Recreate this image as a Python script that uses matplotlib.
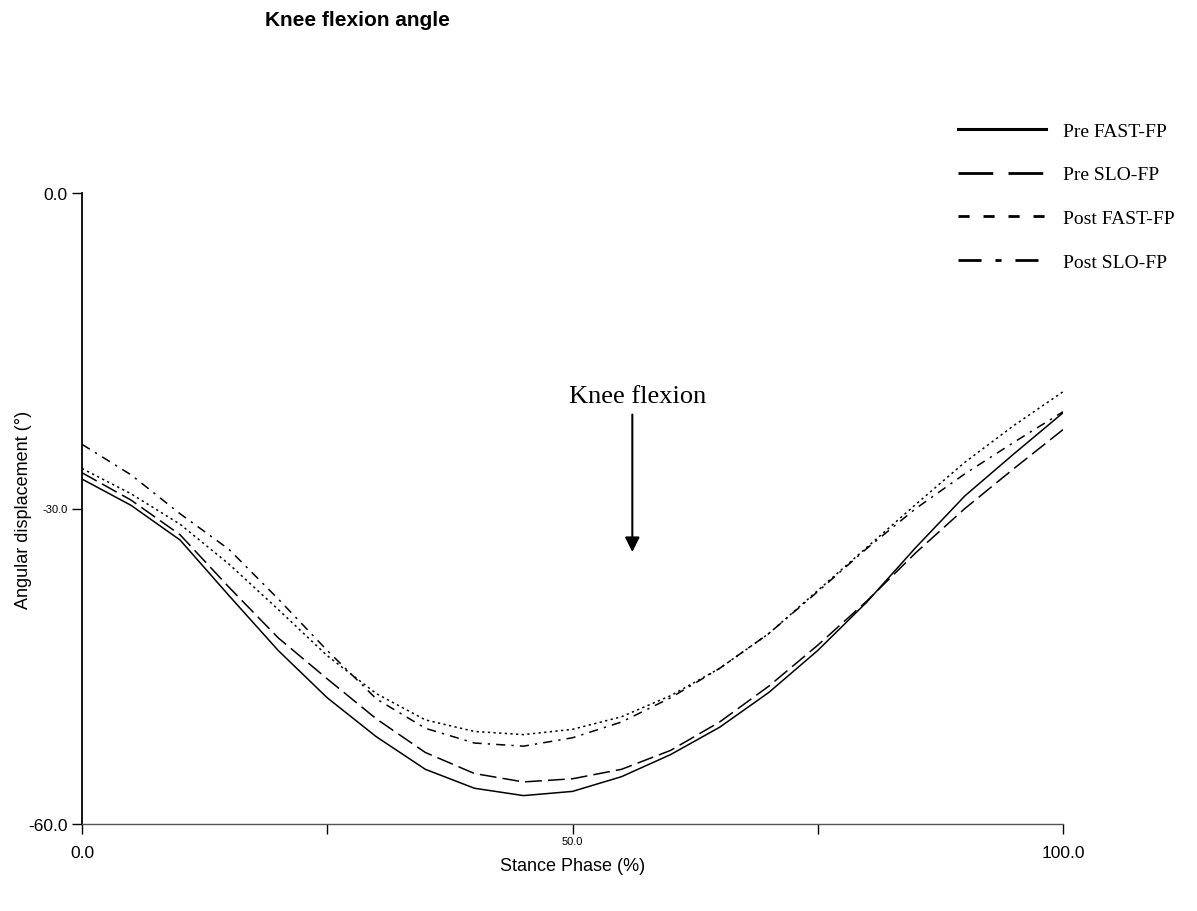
import matplotlib
matplotlib.use("Agg")
import matplotlib.pyplot as plt
from matplotlib.lines import Line2D

stance = [0, 5, 10, 15, 20, 25, 30, 35, 40, 45, 50,
          55, 60, 65, 70, 75, 80, 85, 90, 95, 100]

pre_fast = [-27.2, -29.7, -33.0, -38.3, -43.5, -48.0, -51.7, -54.8, -56.6, -57.3, -56.9,
            -55.5, -53.4, -50.8, -47.5, -43.5, -38.9, -33.7, -28.8, -24.8, -20.9]
pre_slo = [-26.6, -29.2, -32.5, -37.5, -42.3, -46.2, -50.0, -53.2, -55.2, -56.0, -55.7,
           -54.8, -53.0, -50.3, -46.9, -43.0, -38.8, -34.2, -30.0, -26.2, -22.5]
post_fast = [-26.2, -28.6, -31.5, -35.3, -39.6, -44.0, -47.6, -50.1, -51.2, -51.5, -51.0,
             -49.8, -47.8, -45.2, -41.9, -37.8, -33.7, -29.6, -25.6, -22.1, -18.9]
post_slo = [-23.9, -26.8, -30.5, -33.9, -38.6, -43.5, -48.1, -50.9, -52.3, -52.6, -51.8,
            -50.3, -48.0, -45.2, -41.9, -37.9, -33.8, -30.0, -26.7, -23.7, -20.8]

series_labels = ["Pre FAST-FP", "Pre SLO-FP", "Post FAST-FP", "Post SLO-FP"]
x_ticks = [0, 25, 50, 75, 100]
x_tick_labels = ["0.0", "", "50.0", "", "100.0"]
y_ticks = [-60, -30, 0]
y_tick_labels = ["-60.0", "-30.0", "0.0"]

plt.rcParams["font.family"] = ["Liberation Sans", "DejaVu Sans"]

fig = plt.figure(figsize=(11.97, 9.12), dpi=100)
ax = fig.add_axes([82 / 1197, 1 - 825 / 912, 981 / 1197, 631 / 912])

lw = 1.1
ax.plot(stance, pre_fast, color="black", lw=lw)
ax.plot(stance, pre_slo, color="black", lw=lw, dashes=(11, 4))
ax.plot(stance, post_fast, color="black", lw=lw, dashes=(1.5, 2.2))
ax.plot(stance, post_slo, color="black", lw=lw, dashes=(6, 4, 1.5, 4))

ax.set_xlim(0, 100)
ax.set_ylim(-60, 0)
ax.spines["top"].set_visible(False)
ax.spines["right"].set_visible(False)
ax.spines["left"].set_linewidth(1.3)
ax.spines["bottom"].set_linewidth(1.0)
ax.spines["bottom"].set_color("#555555")

ax.set_xticks(x_ticks)
ax.set_xticklabels(x_tick_labels)
ax.set_yticks(y_ticks)
ax.set_yticklabels(y_tick_labels)
ax.tick_params(axis="both", direction="out", length=7, width=1, labelsize=12.5)
ax.tick_params(axis="x", pad=8)
ax.tick_params(axis="y", pad=3.5)

# the middle labels are printed smaller in the original
xt = ax.xaxis.get_major_ticks()
xt[2].set_pad(2)
xt[2].label1.set_fontsize(8)
yt = ax.yaxis.get_major_ticks()
yt[1].label1.set_fontsize(8)

ax.set_xlabel("Stance Phase (%)", fontsize=13)
ax.xaxis.set_label_coords(0.5, -0.053)
ax.set_ylabel("Angular displacement (°)", fontsize=13)
ax.yaxis.set_label_coords(-0.051, 0.5)

ax.annotate("", xy=(56.1, -34.4), xytext=(56.1, -20.8),
            arrowprops=dict(arrowstyle="-|>", color="black", lw=1.5, mutation_scale=22))
ax.text(56.6, -19.3, "Knee flexion", ha="center", va="center",
        family="Liberation Serif", fontsize=19)

fig.text(357 / 1197, 0.978, "Knee flexion angle", ha="center", va="center",
         fontsize=15, fontweight="bold")

# legend keys are drawn heavier than the plotted lines, with their own dash pattern
handles = [
    Line2D([], [], color="black", lw=2.2),
    Line2D([], [], color="black", lw=2.0, dashes=(12.5, 5.5)),
    Line2D([], [], color="black", lw=2.0, dashes=(4, 5)),
    Line2D([], [], color="black", lw=2.0, dashes=(8.3, 5, 2.2, 5)),
]
ax.legend(handles, series_labels, loc="upper left",
          bbox_to_anchor=(958 / 1197, 0.865),
          bbox_transform=fig.transFigure, frameon=False,
          prop={"family": "Liberation Serif", "size": 14},
          handlelength=4.5, labelspacing=1.34, handletextpad=0.9,
          borderpad=0, borderaxespad=0)

fig.savefig("out.png", dpi=100)
